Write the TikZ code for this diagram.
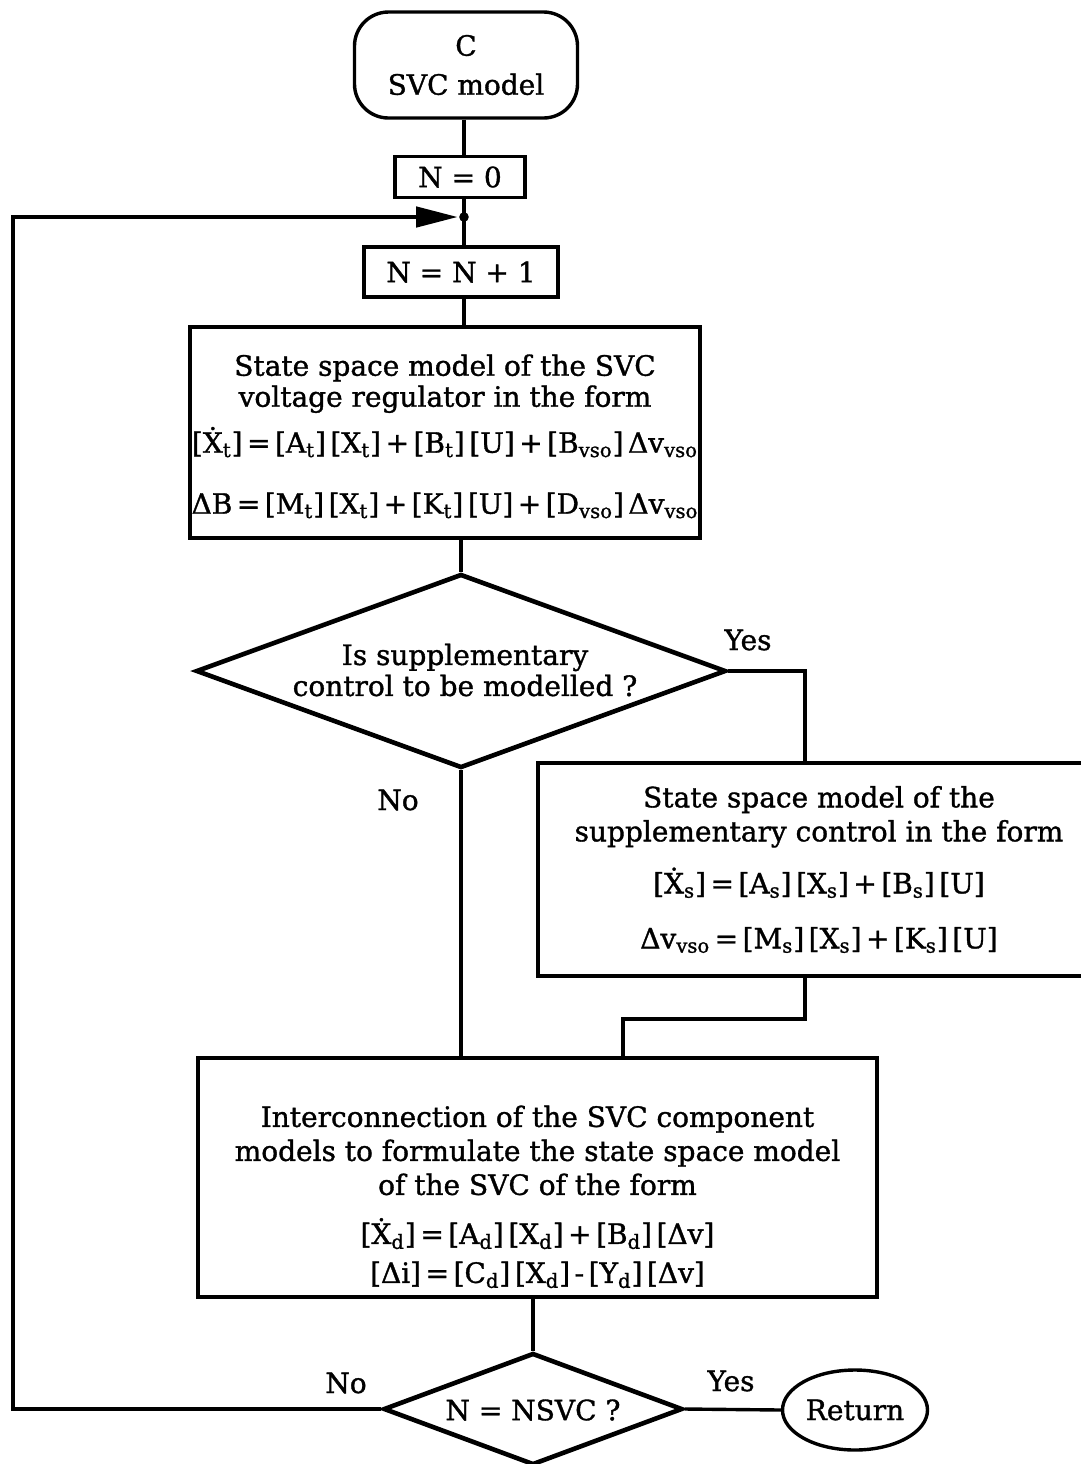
\documentclass[tikz,border=0pt]{standalone}
\usepackage{fontspec}
\setmainfont{DejaVu Serif}[FakeBold=1.2]
\usetikzlibrary{shapes.geometric,arrows.meta,calc}
\newcommand{\sbx}[1]{\textsubscript{#1}}
% equation rows are set with narrower word spaces
\newcommand{\eqrow}[1]{{\spaceskip=0.16em\relax #1}}
\begin{document}
\begin{tikzpicture}[x=0.5pt,y=-0.5pt,line width=1.7pt,
  every node/.style={font=\fontsize{14}{15.5}\selectfont},
  box/.style={draw,line width=1.7pt,inner sep=0pt,align=center},
  decision/.style={diamond,draw,line width=2.3pt,inner sep=0pt},
  lbl/.style={inner sep=0pt}]
\useasboundingbox (0,0) rectangle (1081,1464);
\clip (0,0) rectangle (1081,1464);

% --- nodes of the flow chart ---
\node[box,rounded corners=17pt,minimum width=111.5pt,minimum height=53pt] (start) at (466,65) {C\\[4pt]SVC model};
\node[box,minimum width=65pt,minimum height=20.5pt] (n0) at (460,177) {N = 0};
\node[box,minimum width=97pt,minimum height=25pt] (n1) at (461,272) {N = N + 1};
\node[box,minimum width=255pt,minimum height=105.5pt] (b1) at (445,432.5)
  {\rule{0pt}{14.5pt}State space model of the SVC\\voltage regulator in the form\\[6pt]
   \eqrow{[\.X\sbx{t}] = [A\sbx{t}] [X\sbx{t}] + [B\sbx{t}] [U] + [B\sbx{vso}] Δv\sbx{vso}}\\[15pt]
   \eqrow{ΔB = [M\sbx{t}] [X\sbx{t}] + [K\sbx{t}] [U] + [D\sbx{vso}] Δv\sbx{vso}}};
\node[decision,minimum width=265pt,minimum height=97pt] (d1) at (461,671) {};
\node[align=center] (d1t) at (465,670) {Is supplementary\\control to be modelled ?};
\node[box,minimum width=281pt,minimum height=106.5pt] (b2) at (819,869.5)
  {State space model of the\\[1.5pt]supplementary control in the form\\[9pt]
   \eqrow{[\.X\sbx{s}] = [A\sbx{s}] [X\sbx{s}] + [B\sbx{s}] [U]}\\[12pt]
   \eqrow{Δv\sbx{vso} = [M\sbx{s}] [X\sbx{s}] + [K\sbx{s}] [U]}};
\node[box,minimum width=339.5pt,minimum height=119.5pt] (b3) at (537.5,1177.5)
  {\rule{0pt}{30pt}Interconnection of the SVC component\\[1.5pt]models to formulate the state space model\\[1.5pt]of the SVC of the form\\[9pt]
   \eqrow{[\.X\sbx{d}] = [A\sbx{d}] [X\sbx{d}] + [B\sbx{d}] [Δv]}\\[4pt]
   \eqrow{[Δi] = [C\sbx{d}] [X\sbx{d}] - [Y\sbx{d}] [Δv]}};
\node[decision,minimum width=149.5pt,minimum height=56pt] (d2) at (533,1409) {};
\node (d2t) at (533,1410) {N = NSVC ?};
\node[ellipse,draw,line width=1.7pt,minimum width=72.5pt,minimum height=40pt,inner sep=0pt] (ret) at (855,1410) {Return};

% --- branch labels ---
\node[lbl] (yes1) at (748,640) {Yes};
\node[lbl] (no1) at (398,800) {No};
\node[lbl] (no2) at (346,1383) {No};
\node[lbl] (yes2) at (731,1381) {Yes};

% --- connectors ---
\coordinate (jn) at (464,217);
\coordinate (lx) at (13,217);
\coordinate (yx) at (805,673);
\coordinate (mx) at (623,1019);
\draw (start.south -| jn) -- (n0.north -| jn);
\draw (n0.south -| jn) -- (n1.north -| jn);
\draw (n1.south -| jn) -- (b1.north -| jn);
\draw (b1.south -| d1.north) -- (d1.north);
\draw (d1.south) -- (d1.south |- b3.north);
\draw (d1.east) -| (yx |- b2.north);
\draw (yx |- b2.south) |- (mx) -- (mx |- b3.north);
\draw (b3.south -| d2.north) -- (d2.north);
\draw (d2.east) -- (ret.west);
\draw[line width=2.4pt,-{Triangle[length=21pt,width=10pt]},shorten >=3pt] (d2.west) -| (lx) -- (jn);
\fill (jn) circle (2.4pt);
\end{tikzpicture}
\end{document}
